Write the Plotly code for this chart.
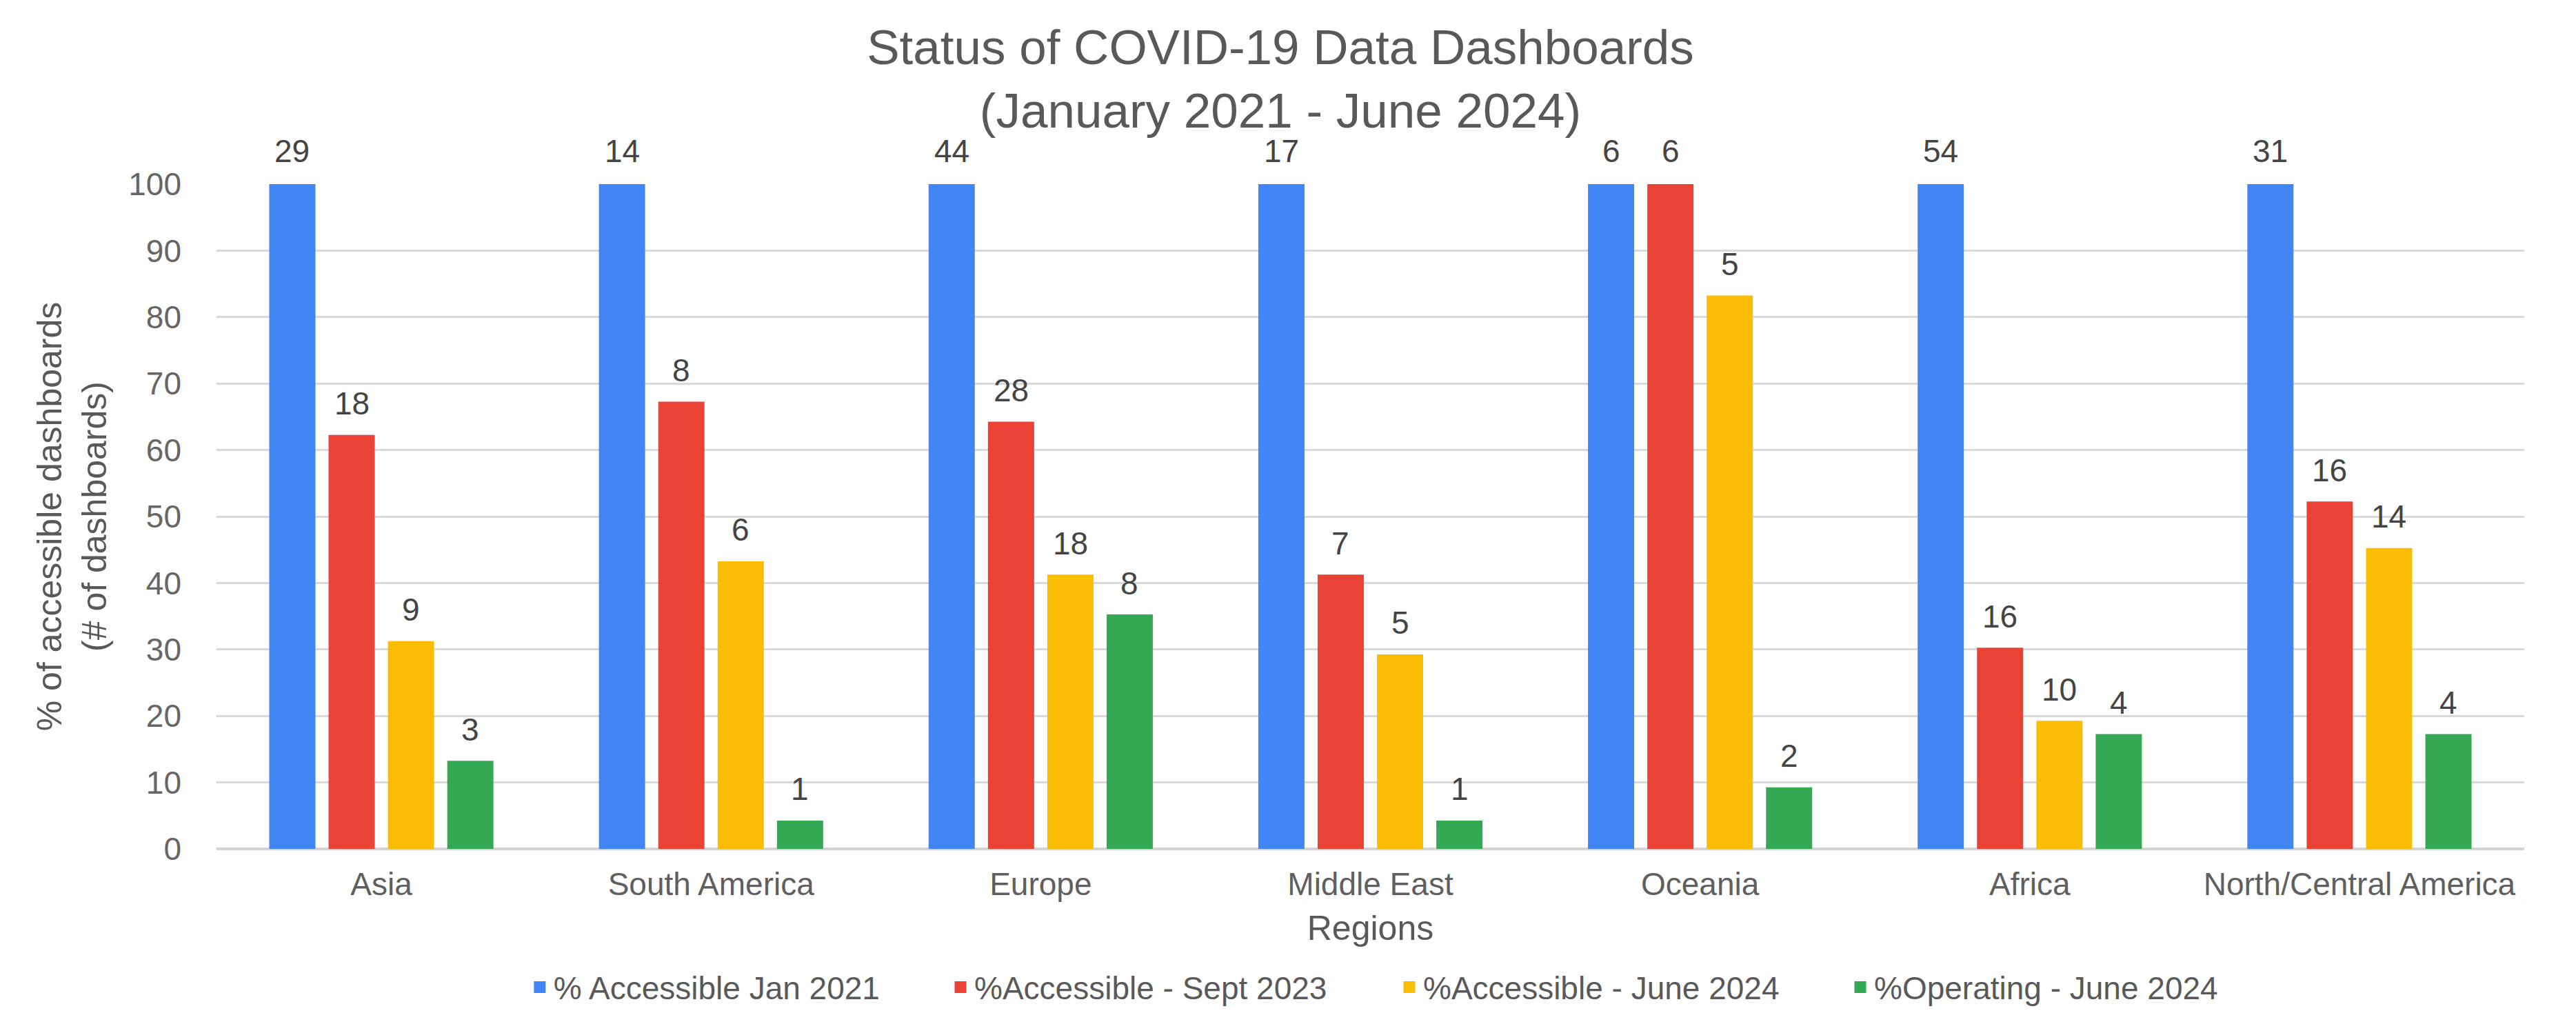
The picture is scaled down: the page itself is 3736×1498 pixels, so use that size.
import plotly.graph_objects as go

regions = ["Asia", "South America", "Europe", "Middle East", "Oceania", "Africa", "North/Central America"]

series_names = [
    "% Accessible Jan 2021",
    "%Accessible - Sept 2023",
    "%Accessible - June 2024",
    "%Operating - June 2024",
]

pct_jan_2021 = [100, 100, 100, 100, 100, 100, 100]
pct_sept_2023 = [62, 67, 64, 41, 100, 30, 52]
pct_june_2024 = [31, 43, 41, 29, 83, 19, 45]
pct_operating_2024 = [13, 4, 35, 4, 9, 17, 17]

n_jan_2021 = [29, 14, 44, 17, 6, 54, 31]
n_sept_2023 = [18, 8, 28, 7, 6, 16, 16]
n_june_2024 = [9, 6, 18, 5, 5, 10, 14]
n_operating_2024 = [3, 1, 8, 1, 2, 4, 4]

y_ticks = [0, 10, 20, 30, 40, 50, 60, 70, 80, 90, 100]

colors = ["#4285F4", "#EA4335", "#FBBC04", "#34A853"]
values = [pct_jan_2021, pct_sept_2023, pct_june_2024, pct_operating_2024]
counts = [n_jan_2021, n_sept_2023, n_june_2024, n_operating_2024]
legend_ids = ["legend", "legend2", "legend3", "legend4"]
legend_x = [0.1341, 0.3164, 0.5109, 0.7063]

FONT = "Liberation Sans, Arial, sans-serif"

W, H = 3736, 1498
ML, MR, MT, MB = 306, 83, 259, 275
BARGAP, BARGROUPGAP = 0.28, 0.28
n_series = len(series_names)
cat_px = (W - ML - MR) / len(regions)
slot_px = cat_px * (1 - BARGAP) / n_series

fig = go.Figure()
for name, vals, col, lg in zip(series_names, values, colors, legend_ids):
    fig.add_trace(go.Bar(
        x=regions, y=vals, name=name, legend=lg,
        marker=dict(color=col, line=dict(width=5, color=col)),
        hoverinfo="x+y+name",
    ))

# count labels above each bar
annotations = []
for i, (vals, cnts) in enumerate(zip(values, counts)):
    for reg, v, c in zip(regions, vals, cnts):
        annotations.append(dict(
            x=reg, y=v, xref="x", yref="y", text=str(c), showarrow=False,
            xanchor="center", yanchor="bottom",
            xshift=(i - (n_series - 1) / 2) * slot_px, yshift=20,
            font=dict(family=FONT, size=46, color="#444444"),
        ))

legend_common = dict(
    orientation="h", xanchor="left", yanchor="middle", y=-0.208,
    font=dict(family=FONT, size=46, color="#595959"),
    bgcolor="rgba(0,0,0,0)", borderwidth=0,
)
layout_legends = {}
for lg, lx in zip(legend_ids, legend_x):
    layout_legends[lg] = dict(legend_common, x=lx)

fig.update_layout(
    width=W, height=H,
    margin=dict(l=ML, r=MR, t=MT, b=MB, autoexpand=False),
    paper_bgcolor="white", plot_bgcolor="white",
    font=dict(family=FONT, color="#595959"),
    barmode="group", bargap=BARGAP, bargroupgap=BARGROUPGAP,
    showlegend=True,
    annotations=annotations,
    title=dict(
        text="Status of COVID-19 Data Dashboards<br>(January 2021 - June 2024)",
        x=1849 / W, xref="container", xanchor="center",
        y=1 - 85 / H, yref="container", yanchor="top",
        font=dict(family=FONT, size=71, color="#595959"),
    ),
    xaxis=dict(
        title=dict(text="Regions", font=dict(family=FONT, size=50, color="#595959"), standoff=20),
        tickfont=dict(family=FONT, size=46, color="#5f5f5f"),
        showgrid=False, showline=False, ticks="", ticklabelstandoff=20,
        automargin=False,
    ),
    yaxis=dict(
        title=dict(text="% of accessible dashboards<br>(# of dashboards)",
                   font=dict(family=FONT, size=50, color="#595959"), standoff=15),
        range=[0, 100], tickvals=y_ticks, ticktext=[str(t) for t in y_ticks],
        tickfont=dict(family=FONT, size=46, color="#666666"),
        showgrid=True, gridcolor="#d9d9d9", gridwidth=3,
        zeroline=True, zerolinecolor="#d4d4d4", zerolinewidth=4,
        showline=False, ticks="", ticklabelstandoff=50,
        automargin=False,
    ),
    **layout_legends,
)

fig.write_html("out.html")
